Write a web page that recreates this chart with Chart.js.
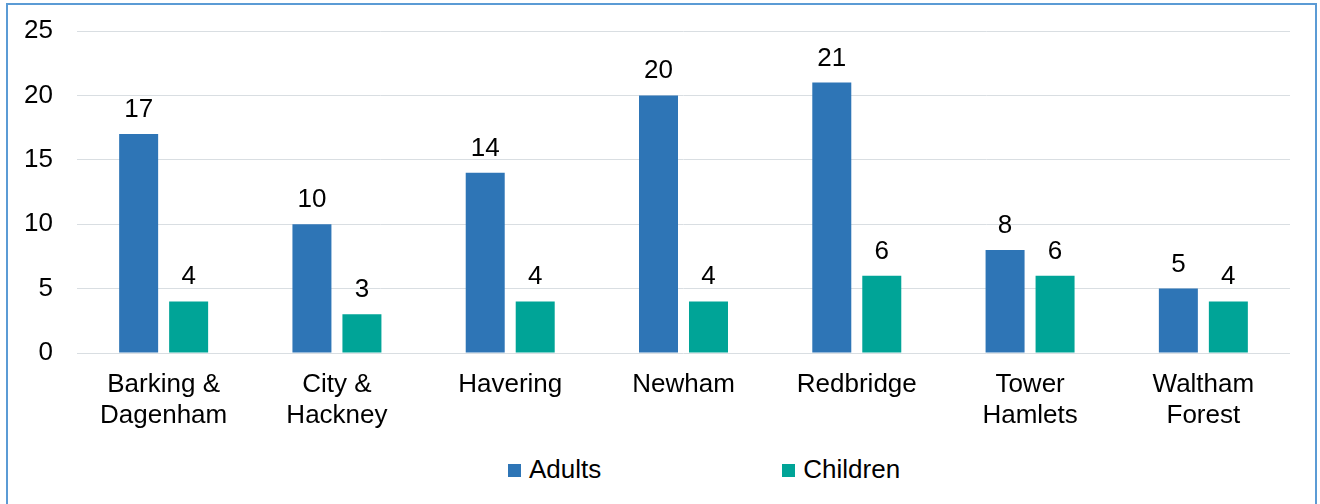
<!DOCTYPE html>
<html>
<head>
<meta charset="utf-8">
<script src="https://cdn.jsdelivr.net/npm/chart.js@4"></script>
<style>
  html, body { margin: 0; padding: 0; background: #fff; overflow: hidden; }
  body { width: 1320px; height: 504px; position: relative; font-family: "Liberation Sans", Arial, sans-serif; }
  #frame { position: absolute; left: 6px; top: 3px; width: 1311px; height: 600px; border: 2px solid #5b9bd5; box-sizing: border-box; }
  #wrap { position: absolute; left: 0; top: 0; width: 1320px; height: 440px; }
  #legend { position: absolute; left: 508px; top: 454px; display: flex; gap: 181px; font-size: 26px; line-height: 31px; color: #000; }
  #legend .item { display: flex; align-items: center; }
  #legend .box { width: 13px; height: 13px; margin-right: 8px; margin-top: 2px; }
</style>
</head>
<body>
<div id="frame"></div>
<div id="wrap"><canvas id="chart"></canvas></div>
<div id="legend"></div>
<script>
const categories = [
  ['Barking &', 'Dagenham'],
  ['City &', 'Hackney'],
  'Havering',
  'Newham',
  'Redbridge',
  ['Tower', 'Hamlets'],
  ['Waltham', 'Forest']
];
const adults = [17, 10, 14, 20, 21, 8, 5];
const children = [4, 3, 4, 4, 6, 6, 4];
const seriesNames = ['Adults', 'Children'];
const seriesColors = ['#2e75b6', '#00a497'];
const yTicks = [0, 5, 10, 15, 20, 25];

const FONT = '"Liberation Sans", Arial, sans-serif';

// valori sopra le barre
const valueLabelPlugin = {
  id: 'valueLabels',
  afterDatasetsDraw(chart) {
    const ctx = chart.ctx;
    ctx.save();
    ctx.font = '26px ' + FONT;
    ctx.fillStyle = '#000';
    ctx.textAlign = 'center';
    ctx.textBaseline = 'alphabetic';
    chart.data.datasets.forEach((ds, i) => {
      const meta = chart.getDatasetMeta(i);
      meta.data.forEach((bar, j) => {
        ctx.fillText(String(ds.data[j]), bar.x, bar.y - 17);
      });
    });
    ctx.restore();
  }
};

const chart = new Chart(document.getElementById('chart'), {
  type: 'bar',
  plugins: [valueLabelPlugin],
  data: {
    labels: categories,
    datasets: [
      { label: seriesNames[0], data: adults, backgroundColor: seriesColors[0] },
      { label: seriesNames[1], data: children, backgroundColor: seriesColors[1] }
    ]
  },
  options: {
    responsive: true,
    maintainAspectRatio: false,
    animation: false,
    layout: { padding: { top: 31, right: 30, left: 0, bottom: 0 } },
    datasets: { bar: { categoryPercentage: 0.577, barPercentage: 0.78 } },
    scales: {
      x: {
        grid: { display: false, drawTicks: false },
        border: { display: false },
        ticks: { color: '#000', font: { family: FONT, size: 26, lineHeight: 1.2 }, padding: 16, maxRotation: 0, autoSkip: false },
        afterFit(scale) { scale.height = 87; }
      },
      y: {
        min: 0,
        max: 25,
        afterBuildTicks(scale) { scale.ticks = yTicks.map(v => ({ value: v })); },
        grid: { color: '#d9dee2', lineWidth: 1, drawTicks: false },
        border: { display: false },
        ticks: { color: '#000', font: { family: FONT, size: 26 }, padding: 24 },
        afterFit(scale) {
          scale.width = 77;
          scale.paddingTop = 0;
          scale.paddingBottom = 0;
        }
      }
    },
    plugins: { legend: { display: false }, tooltip: { enabled: false } }
  }
});

const legendEl = document.getElementById('legend');
chart.data.datasets.forEach(ds => {
  const item = document.createElement('div');
  item.className = 'item';
  const box = document.createElement('span');
  box.className = 'box';
  box.style.background = ds.backgroundColor;
  const txt = document.createElement('span');
  txt.textContent = ds.label;
  item.appendChild(box);
  item.appendChild(txt);
  legendEl.appendChild(item);
});
</script>
</body>
</html>
